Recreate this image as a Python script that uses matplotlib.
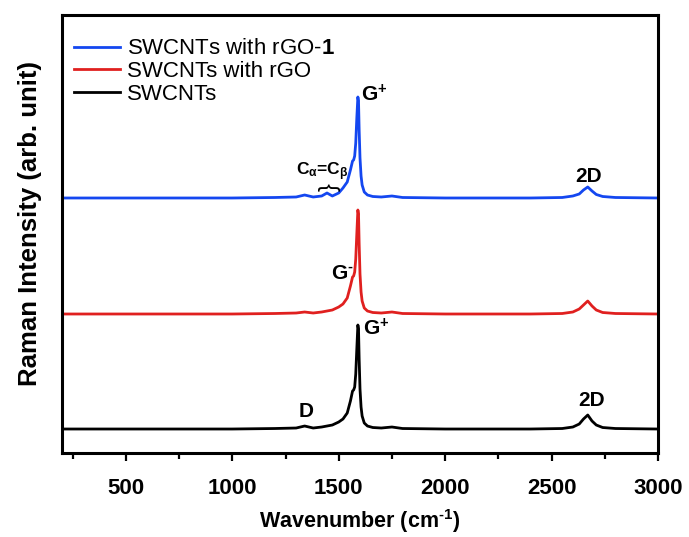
import matplotlib
matplotlib.use("Agg")
import matplotlib.pyplot as plt
import numpy as np

plt.rcParams['font.family'] = ['Liberation Sans', 'DejaVu Sans']
# all math text in the figure is bold
plt.rcParams['mathtext.fontset'] = 'custom'
plt.rcParams['mathtext.rm'] = 'Liberation Sans:bold'
plt.rcParams['mathtext.bf'] = 'Liberation Sans:bold'
plt.rcParams['mathtext.it'] = 'Liberation Sans:bold'

# wavenumber grid (cm-1)
wavenumber = [200, 400, 600, 800, 1000, 1200, 1300, 1340, 1380, 1420, 1445, 1470,
              1500, 1520, 1540, 1555, 1565, 1570, 1575, 1580, 1585, 1590, 1593,
              1596, 1600, 1605, 1610, 1620, 1635, 1660, 1700, 1750, 1800, 2000,
              2200, 2400, 2550, 2600, 2630, 2650, 2670, 2690, 2710, 2740, 2800, 3000]

# intensities above each baseline (arb. unit)
swcnt = [0, 0, 0, 0, 0, 0.5, 1, 3, 1, 2, 3, 4,
         7, 10, 16, 28, 38, 39, 42, 55, 80, 104, 100,
         70, 40, 22, 13, 6, 3, 1.5, 1, 2, 0.5, 0,
         0, 0, 0.5, 2, 5, 10, 14, 8, 4, 1.5, 0.5, 0]
swcnt_rgo = [0, 0, 0, 0, 0, 0.5, 1, 2, 1, 2, 3, 4,
             7, 10, 16, 28, 37, 38, 42, 55, 80, 104, 100,
             70, 40, 22, 13, 6, 3, 1.5, 1, 2, 0.5, 0,
             0, 0, 0.5, 2, 5, 9, 13, 8, 4, 1.5, 0.5, 0]
swcnt_rgo1 = [0, 0, 0, 0, 0, 0.5, 1, 3, 1, 2, 5, 2,
              5, 10, 16, 28, 37, 38, 42, 55, 80, 101, 97,
              68, 40, 22, 13, 6, 3, 1.5, 1, 2, 0.5, 0,
              0, 0, 0.5, 2, 4, 8, 11, 7, 3.5, 1.5, 0.5, 0]

offsets = [24, 139, 255]
labels = ['SWCNTs', 'SWCNTs with rGO', 'SWCNTs with rGO-$\\mathbf{1}$']
colors = ['#000000', '#e0201f', '#1447f0']

fig = plt.figure(figsize=(6.89, 5.37), dpi=100)
ax = fig.add_axes([0.090, 0.1564, 0.865, 0.8157])

series = [swcnt, swcnt_rgo, swcnt_rgo1]
handles = []
for s, off, lab, c in zip(series, offsets, labels, colors):
    h, = ax.plot(wavenumber, np.array(s) + off, color=c, lw=2.0, label=lab)
    handles.append(h)

ax.set_xlim(200, 3000)
ax.set_ylim(0, 438)
ax.set_xticks([500, 1000, 1500, 2000, 2500, 3000])
ax.set_xticks(np.arange(250, 3001, 500), minor=True)
ax.set_yticks([])
for sp in ax.spines.values():
    sp.set_linewidth(2.2)
ax.tick_params(axis='x', which='major', length=6, width=1.6, pad=12, labelsize=16)
ax.tick_params(axis='x', which='minor', length=4, width=1.6)
for t in ax.get_xticklabels():
    t.set_fontweight('bold')

xl = ax.set_xlabel('Wavenumber (cm$^{\\text{-}1}$)', fontsize=15.5, fontweight='bold')
ax.xaxis.set_label_coords(0.5, -0.155)
xl.set_va('center')
yl = ax.set_ylabel('Raman Intensity (arb. unit)', fontsize=18.5, fontweight='bold')
ax.yaxis.set_label_coords(-0.054, 0.523)
yl.set_va('center')

leg = ax.legend(handles[::-1], labels[::-1], loc='upper left', frameon=False,
                fontsize=16, handlelength=2.1, handletextpad=0.3,
                labelspacing=0.08, borderaxespad=0.2, bbox_to_anchor=(-0.003, 0.977))

fs = 15
ax.text(1605, 352, '$\\mathrm{G}^{+}$', fontsize=fs, ha='left', va='baseline')
ax.text(1300, 278, '$\\mathrm{C}_{\\alpha}\\text{=}\\mathrm{C}_{\\beta}$', fontsize=12.5,
        ha='left', va='baseline')
ax.text(1459, 266, '}', fontsize=17, rotation=90, ha='center', va='center')
ax.text(2676, 271, '2D', fontsize=fs, fontweight='bold', ha='center', va='baseline')
ax.text(1464, 174, '$\\mathrm{G}^{\\text{-}}$', fontsize=fs, ha='left', va='baseline')
ax.text(1612, 118, '$\\mathrm{G}^{+}$', fontsize=fs, ha='left', va='baseline')
ax.text(1347, 36, 'D', fontsize=fs, fontweight='bold', ha='center', va='baseline')
ax.text(2690, 47, '2D', fontsize=fs, fontweight='bold', ha='center', va='baseline')

fig.savefig('out.png', dpi=100)
